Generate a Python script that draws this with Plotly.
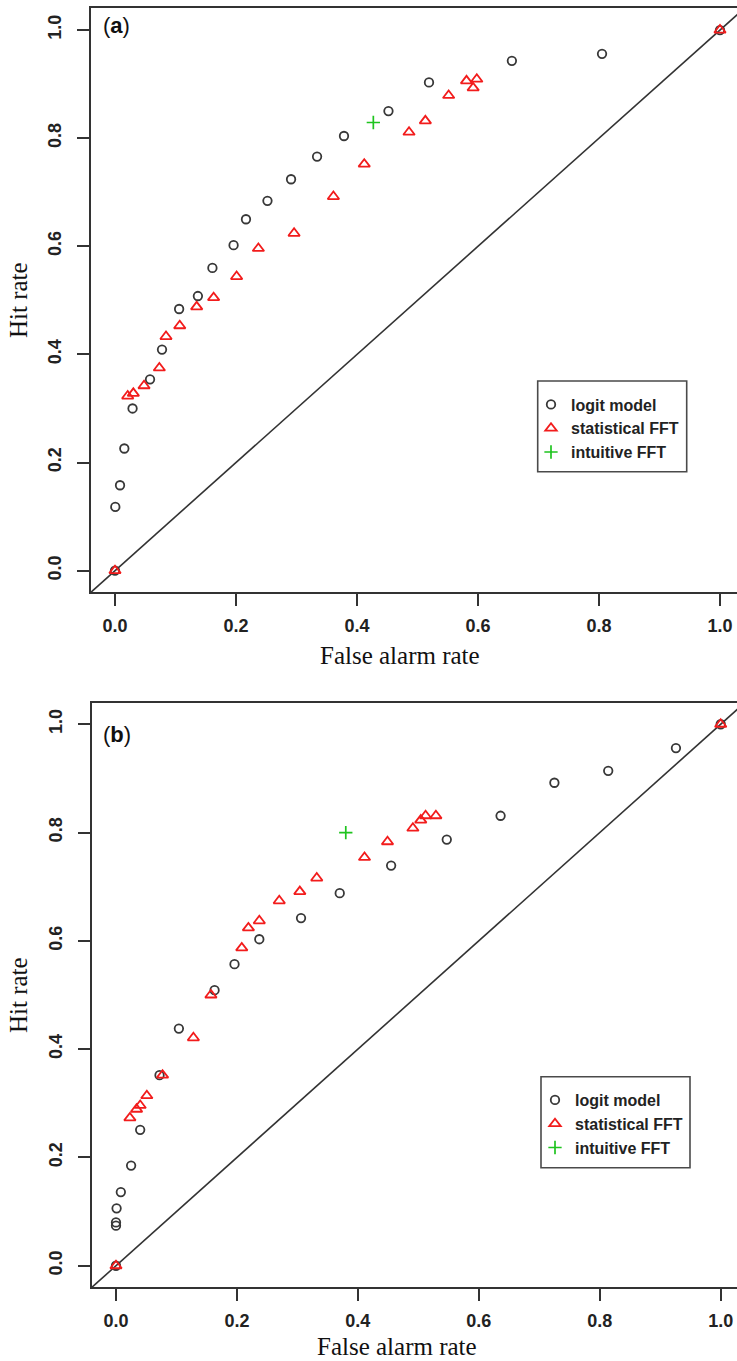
import plotly.graph_objects as go

# ---------------- data ----------------
# Panel (a)
a_logit_far = [0.0, 0.0005, 0.0083, 0.0154, 0.029, 0.0579, 0.0777, 0.106, 0.137, 0.161, 0.196,
               0.2165, 0.252, 0.291, 0.334, 0.3785, 0.452, 0.519, 0.656, 0.805, 1.0]
a_logit_hit = [0.0, 0.118, 0.158, 0.226, 0.300, 0.354, 0.409, 0.484, 0.508, 0.560, 0.602,
               0.650, 0.684, 0.724, 0.766, 0.804, 0.850, 0.903, 0.943, 0.956, 1.0]
a_fft_far = [0.0, 0.021, 0.0303, 0.048, 0.0733, 0.0843, 0.107, 0.135, 0.163, 0.201, 0.237,
             0.296, 0.361, 0.412, 0.486, 0.513, 0.5515, 0.581, 0.592, 0.598, 1.0]
a_fft_hit = [0.0, 0.323, 0.328, 0.342, 0.375, 0.433, 0.453, 0.488, 0.505, 0.544, 0.596,
             0.624, 0.692, 0.752, 0.811, 0.832, 0.879, 0.906, 0.893, 0.909, 1.0]
a_int_far = [0.427]
a_int_hit = [0.829]

# Panel (b)
b_logit_far = [0.0, 0.0, 0.0, 0.001, 0.008, 0.025, 0.040, 0.072, 0.104, 0.163, 0.196,
               0.237, 0.306, 0.370, 0.455, 0.547, 0.636, 0.725, 0.814, 0.926, 1.0]
b_logit_hit = [0.0, 0.074, 0.080, 0.106, 0.136, 0.185, 0.251, 0.352, 0.438, 0.509, 0.557,
               0.603, 0.642, 0.688, 0.739, 0.787, 0.831, 0.892, 0.914, 0.956, 1.0]
b_fft_far = [0.0, 0.023, 0.034, 0.040, 0.051, 0.077, 0.128, 0.157, 0.208, 0.219, 0.237,
             0.270, 0.304, 0.332, 0.411, 0.449, 0.491, 0.504, 0.512, 0.529, 1.0]
b_fft_hit = [0.0, 0.273, 0.289, 0.296, 0.314, 0.352, 0.421, 0.500, 0.587, 0.624, 0.637,
             0.674, 0.691, 0.716, 0.754, 0.783, 0.808, 0.823, 0.831, 0.831, 1.0]
b_int_far = [0.380]
b_int_hit = [0.800]

tick_vals = [0.0, 0.2, 0.4, 0.6, 0.8, 1.0]
tick_text = ["0.0", "0.2", "0.4", "0.6", "0.8", "1.0"]
series_names = ["logit model", "statistical FFT", "intuitive FFT"]
x_title = "False alarm rate"
y_title = "Hit rate"
panel_labels = ["(<b>a</b>)", "(<b>b</b>)"]

# ---------------- styling ----------------
PAGE_W, PAGE_H = 737, 1361
OFF = 0  # body margin removed via post_script
W, H = PAGE_W - OFF, PAGE_H - OFF
DARK = "#383838"
RED = "#f21c1c"
GREEN = "#1fc41f"
AX = "#333333"

def px_x(p):  # page pixel -> paper coordinate
    return (p - OFF) / W

def px_y(p):
    return 1 - (p - OFF) / H

fig = go.Figure()

panels = [
    dict(logit=(a_logit_far, a_logit_hit), fft=(a_fft_far, a_fft_hit), intu=(a_int_far, a_int_hit),
         xa="x", ya="y", legend="legend"),
    dict(logit=(b_logit_far, b_logit_hit), fft=(b_fft_far, b_fft_hit), intu=(b_int_far, b_int_hit),
         xa="x2", ya="y2", legend="legend2"),
]

YR = [-0.04, 1.04]

for p in panels:
    # identity reference line spanning the axis range
    fig.add_trace(go.Scatter(x=YR, y=YR, mode="lines", line=dict(color=AX, width=1.6),
                             showlegend=False, hoverinfo="skip", xaxis=p["xa"], yaxis=p["ya"]))
    fig.add_trace(go.Scatter(x=p["logit"][0], y=p["logit"][1], mode="markers", name=series_names[0],
                             marker=dict(symbol="circle-open", size=8.5, color=DARK, line=dict(width=1.8)),
                             xaxis=p["xa"], yaxis=p["ya"], legend=p["legend"]))
    fig.add_trace(go.Scatter(x=p["fft"][0], y=p["fft"][1], mode="markers", name=series_names[1],
                             marker=dict(symbol="triangle-up-open", size=10, color=RED, line=dict(width=1.8)),
                             xaxis=p["xa"], yaxis=p["ya"], legend=p["legend"]))
    fig.add_trace(go.Scatter(x=p["intu"][0], y=p["intu"][1], mode="markers", name=series_names[2],
                             marker=dict(symbol="cross-thin-open", size=9.5, color=GREEN, line=dict(width=1.7)),
                             xaxis=p["xa"], yaxis=p["ya"], legend=p["legend"]))

tickfont = dict(family="Liberation Sans, Arial, sans-serif", size=18, color="#222222", weight="bold")

def xaxis(dom, rng, anchor):
    return dict(domain=dom, range=rng, anchor=anchor, showline=True, mirror=True, linecolor=AX,
                linewidth=1.6, ticks="outside", ticklen=12, tickwidth=1.5, tickcolor=AX,
                tickvals=tick_vals, ticktext=tick_text, tickfont=tickfont, showgrid=False,
                zeroline=False, ticklabelstandoff=4)

def yaxis(dom, anchor):
    return dict(domain=dom, range=YR, anchor=anchor, showline=True, mirror=False, linecolor=AX,
                linewidth=1.6, ticks="outside", ticklen=12, tickwidth=1.5, tickcolor=AX,
                tickvals=tick_vals, ticktext=tick_text, tickfont=tickfont, tickangle=-90,
                showgrid=False, zeroline=False, ticklabelstandoff=9)

legfont = dict(family="Liberation Sans, Arial, sans-serif", size=16, color="#222222", weight="bold")

fig.update_layout(
    width=W, height=H, margin=dict(l=0, r=0, t=0, b=0),
    paper_bgcolor="white", plot_bgcolor="white",
    xaxis=xaxis([px_x(90.8), 1.0], [-0.04, (PAGE_W - 115) / 605], "y"),
    yaxis=yaxis([px_y(592.3), px_y(8.4)], "x"),
    xaxis2=xaxis([px_x(91.8), 1.0], [-0.04, (PAGE_W - 116) / 604.7], "y2"),
    yaxis2=yaxis([px_y(1287.4), px_y(702.6)], "x2"),
    legend=dict(x=px_x(531), y=px_y(387.5), xanchor="left", yanchor="top", bgcolor="rgba(0,0,0,0)",
                borderwidth=0, font=legfont, tracegroupgap=0),
    legend2=dict(x=px_x(535), y=px_y(1083), xanchor="left", yanchor="top", bgcolor="rgba(0,0,0,0)",
                 borderwidth=0, font=legfont, tracegroupgap=0),
    showlegend=True,
)

# legend frames
for (x0, x1, y0, y1) in [(537.7, 686.7, 381, 471.7), (541, 690, 1076.7, 1167.7)]:
    fig.add_shape(type="rect", xref="paper", yref="paper", x0=px_x(x0), x1=px_x(x1),
                  y0=px_y(y1), y1=px_y(y0), line=dict(color="#4a4a4a", width=1.6), layer="above")

serif = dict(family="Liberation Serif, Times New Roman, serif", size=25, color="#111111")
ann = [
    dict(text=x_title, x=px_x(399.5), y=px_y(655), font=serif),
    dict(text=x_title, x=px_x(397), y=px_y(1346), font=serif),
    dict(text=y_title, x=px_x(18), y=px_y(300), font=serif, textangle=-90),
    dict(text=y_title, x=px_x(18), y=px_y(995), font=serif, textangle=-90),
    dict(text=panel_labels[0], x=px_x(116.5), y=px_y(25.5),
         font=dict(family="Liberation Sans, Arial, sans-serif", size=22, color="#111111")),
    dict(text=panel_labels[1], x=px_x(116.5), y=px_y(734),
         font=dict(family="Liberation Sans, Arial, sans-serif", size=22, color="#111111")),
]
for a in ann:
    fig.add_annotation(xref="paper", yref="paper", showarrow=False, xanchor="center", yanchor="middle", **a)

fig.write_html("out.html", config={"displayModeBar": False},
               post_script="document.body.style.margin='0';")
